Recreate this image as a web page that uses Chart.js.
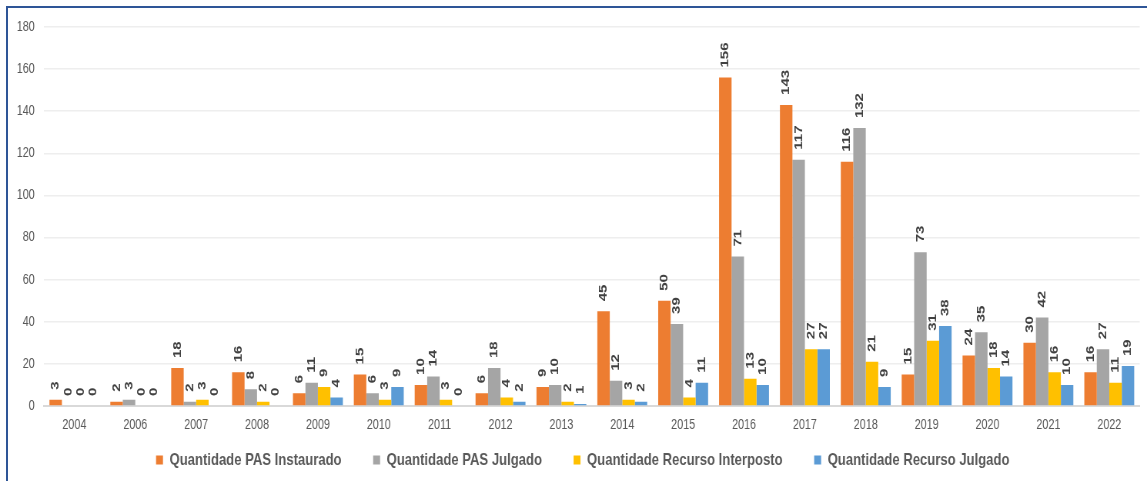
<!DOCTYPE html>
<html><head><meta charset="utf-8">
<script src="https://cdn.jsdelivr.net/npm/chart.js@4.4.1/dist/chart.umd.min.js"></script>
<style>
html,body{margin:0;padding:0;background:#fff;}
#wrap{position:relative;width:1147px;height:481px;overflow:hidden;background:#fff;}
#stretch{position:absolute;left:0;top:0;width:1490px;height:481px;transform:scaleX(0.769799);transform-origin:0 0;}
#frame{position:absolute;left:6px;top:6px;right:-4px;bottom:-4px;border-top:2px solid #2E5597;border-left:2px solid #2E5597;pointer-events:none;}
</style></head><body>
<div id="wrap"><div id="stretch"><canvas id="c" width="1490" height="481"></canvas></div><div id="frame"></div></div>
<script>
const categories = ['2004','2006','2007','2008','2009','2010','2011','2012','2013','2014','2015','2016','2017','2018','2019','2020','2021','2022'];
const pasInstaurado   = [3, 2, 18, 16, 6, 15, 10, 6, 9, 45, 50, 156, 143, 116, 15, 24, 30, 16];
const pasJulgado      = [0, 3, 2, 8, 11, 6, 14, 18, 10, 12, 39, 71, 117, 132, 73, 35, 42, 27];
const recursoInterposto = [0, 0, 3, 2, 9, 3, 3, 4, 2, 3, 4, 13, 27, 21, 31, 18, 16, 11];
const recursoJulgado  = [0, 0, 0, 0, 4, 9, 0, 2, 1, 2, 11, 10, 27, 9, 38, 14, 10, 19];
const seriesNames = ['Quantidade PAS Instaurado','Quantidade PAS Julgado','Quantidade Recurso Interposto','Quantidade Recurso Julgado'];
const yTicks = [0,20,40,60,80,100,120,140,160,180];

const FONT = "'Liberation Sans', Arial, sans-serif";
Chart.defaults.font.family = FONT;
Chart.defaults.color = '#595959';

const barLabels = {
  id: 'barLabels',
  afterDatasetsDraw(chart) {
    const ctx = chart.ctx;
    ctx.save();
    ctx.font = "bold 15px " + FONT;
    ctx.fillStyle = '#404040';
    ctx.textAlign = 'left';
    ctx.textBaseline = 'middle';
    chart.data.datasets.forEach((ds, i) => {
      const meta = chart.getDatasetMeta(i);
      meta.data.forEach((el, j) => {
        ctx.save();
        ctx.translate(el.x, el.y - 10);
        ctx.rotate(-Math.PI / 2);
        ctx.fillText(String(ds.data[j]), 0, 0);
        ctx.restore();
      });
    });
    ctx.restore();
  }
};

const colors = ['#ED7D31', '#A5A5A5', '#FFC000', '#5B9BD5'];
const seriesData = [pasInstaurado, pasJulgado, recursoInterposto, recursoJulgado];

new Chart(document.getElementById('c'), {
  type: 'bar',
  data: {
    labels: categories,
    datasets: seriesNames.map((n, i) => ({
      label: n,
      data: seriesData[i],
      backgroundColor: colors[i],
      borderWidth: 0,
      categoryPercentage: 0.82,
      barPercentage: 1.0
    }))
  },
  options: {
    responsive: false,
    animation: false,
    devicePixelRatio: 1,
    layout: { padding: { top: 27, left: 33.5, right: 9.5, bottom: 2.5 } },
    plugins: {
      tooltip: { enabled: false },
      legend: {
        position: 'bottom',
        labels: {
          boxWidth: 9, boxHeight: 9, padding: 41,
          color: '#595959',
          font: { size: 17, weight: 'bold', family: FONT }
        }
      }
    },
    scales: {
      x: {
        grid: { display: false, drawTicks: false },
        border: { display: true, color: '#d9d9d9', width: 2 },
        ticks: { padding: 11, color: '#595959', font: { size: 14 }, maxRotation: 0, autoSkip: false },
        afterFit(s) { s.height = 4.5; s._computeLabelArea = () => undefined; }
      },
      y: {
        min: 0, max: 180,
        afterBuildTicks(s) { s.ticks = yTicks.map(v => ({ value: v })); },
        grid: { color: '#eeeeee', lineWidth: 1.5, drawTicks: false },
        border: { display: false },
        ticks: { padding: 12, color: '#595959', font: { size: 14 } },
        afterFit(s) { s.width = 23.6; s._computeLabelArea = () => undefined; }
      }
    }
  },
  plugins: [barLabels]
});
</script>
</body></html>
